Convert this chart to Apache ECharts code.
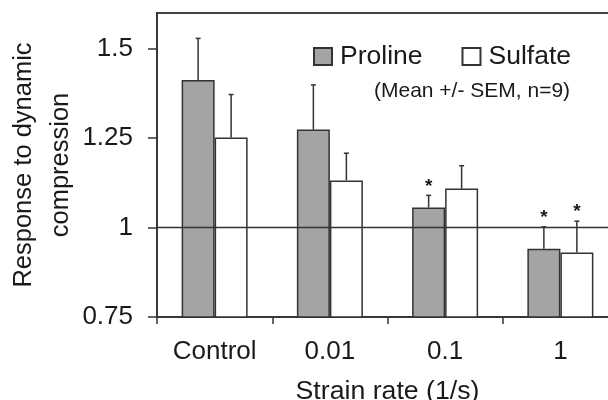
<!DOCTYPE html>
<html>
<head>
<meta charset="utf-8">
<script src="https://cdn.jsdelivr.net/npm/echarts@6/dist/echarts.min.js"></script>
<style>
  html, body { margin: 0; padding: 0; background: #fff; }
  #chart { width: 608px; height: 400px; }
</style>
</head>
<body>
<div id="chart"></div>
<script>
// Strain-rate groups on the x axis
var categories = ['Control', '0.01', '0.1', '1'];

// Mean response and SEM for each group
var prolineMean = [1.413, 1.274, 1.056, 0.941];
var prolineSem  = [0.116, 0.125, 0.034, 0.061];
var sulfateMean = [1.252, 1.132, 1.109, 0.930];
var sulfateSem  = [0.120, 0.076, 0.064, 0.088];

// Significance markers (asterisk above the error bar)
var prolineStar = [0, 0, 1, 1];
var sulfateStar = [0, 0, 0, 1];

// Y axis tick values
var yTicks = [0.75, 1, 1.25, 1.5];
var baseline = 1;

var FONT = '"Liberation Sans", Arial, Helvetica, sans-serif';
var INK = '#1a1a1a';
var LINE = '#333';
var BAR_W = 33;

function errorData(means, sems, stars, side) {
  return means.map(function (m, i) { return [i, m, sems[i], side, stars[i]]; });
}

function renderError(params, api) {
  var idx = api.value(0), mean = api.value(1), sem = api.value(2);
  var side = api.value(3), star = api.value(4);
  var p0 = api.coord([idx, mean]);
  var p1 = api.coord([idx, mean + sem]);
  var x = p0[0] + side * BAR_W / 2;
  var children = [
    { type: 'line', shape: { x1: x, y1: p0[1], x2: x, y2: p1[1] },
      style: { stroke: LINE, lineWidth: 1.5 } },
    { type: 'line', shape: { x1: x - 2.5, y1: p1[1], x2: x + 2.5, y2: p1[1] },
      style: { stroke: LINE, lineWidth: 1.5 } }
  ];
  if (star) {
    children.push({ type: 'text',
      style: { text: '*', x: x, y: p1[1] - 9, textAlign: 'center', textVerticalAlign: 'middle',
               fontSize: 19, fontWeight: 'bold', fontFamily: FONT, fill: INK } });
  }
  return { type: 'group', children: children };
}

var chart = echarts.init(document.getElementById('chart'), null, { renderer: 'canvas' });

chart.setOption({
  animation: false,
  backgroundColor: '#fff',
  textStyle: { fontFamily: FONT, color: INK },
  grid: {
    left: 157, right: -10, top: 13, bottom: 83,
    containLabel: false, outerBoundsMode: 'none',
    show: true, borderColor: '#444', borderWidth: 2, backgroundColor: 'transparent'
  },
  legend: {
    data: ['Proline', 'Sulfate'],
    left: 313, top: 43, padding: 0,
    itemWidth: 18, itemHeight: 17, itemGap: 39,
    icon: 'rect',
    textStyle: { fontSize: 26.5, color: INK, fontFamily: FONT, padding: [0, 0, 0, 3] }
  },
  graphic: [{
    type: 'text', left: 374, top: 81,
    style: { text: '(Mean +/- SEM, n=9)', fontSize: 21, fill: INK, fontFamily: FONT }
  }],
  xAxis: {
    type: 'category',
    data: categories,
    name: 'Strain rate (1/s)',
    nameLocation: 'middle',
    nameGap: 61,
    nameMoveOverlap: false,
    nameTextStyle: { fontSize: 26.7, color: INK, fontFamily: FONT },
    axisLine: { lineStyle: { color: LINE, width: 1.5 } },
    axisTick: { show: true, length: 7, lineStyle: { color: LINE, width: 1.5 } },
    axisLabel: { fontSize: 26, color: INK, margin: 22, fontFamily: FONT },
    splitLine: { show: false }
  },
  yAxis: {
    type: 'value',
    min: 0.75, max: 1.6, interval: 0.25,
    name: 'Response to dynamic\ncompression',
    nameLocation: 'middle',
    nameRotate: 90,
    nameGap: 78,
    nameMoveOverlap: false,
    nameTextStyle: { fontSize: 25.5, lineHeight: 37, color: INK, fontFamily: FONT, align: 'center' },
    axisLine: { show: true, lineStyle: { color: LINE, width: 1.5 } },
    axisTick: { show: true, length: 9, customValues: yTicks, lineStyle: { color: LINE, width: 1.5 } },
    axisLabel: { fontSize: 26, color: INK, margin: 24, customValues: yTicks, fontFamily: FONT },
    splitLine: { show: false }
  },
  series: [
    {
      // reference level at 1, drawn beneath the bars
      type: 'line', data: [], z: 1,
      markLine: {
        silent: true, symbol: 'none', animation: false,
        label: { show: false },
        lineStyle: { type: 'solid', color: LINE, width: 1.3 },
        data: [{ yAxis: baseline }]
      }
    },
    {
      name: 'Proline', type: 'bar', data: prolineMean, z: 3,
      barWidth: BAR_W, barGap: '0%',
      itemStyle: { color: '#a4a4a4', borderColor: LINE, borderWidth: 1.5 }
    },
    {
      name: 'Sulfate', type: 'bar', data: sulfateMean, z: 3,
      barWidth: BAR_W, barGap: '0%',
      itemStyle: { color: '#ffffff', borderColor: LINE, borderWidth: 1.5 }
    },
    {
      type: 'custom', z: 4, renderItem: renderError,
      data: errorData(prolineMean, prolineSem, prolineStar, -1),
      encode: { x: 0, y: 1 }
    },
    {
      type: 'custom', z: 4, renderItem: renderError,
      data: errorData(sulfateMean, sulfateSem, sulfateStar, 1),
      encode: { x: 0, y: 1 }
    }
  ]
});
</script>
</body>
</html>
